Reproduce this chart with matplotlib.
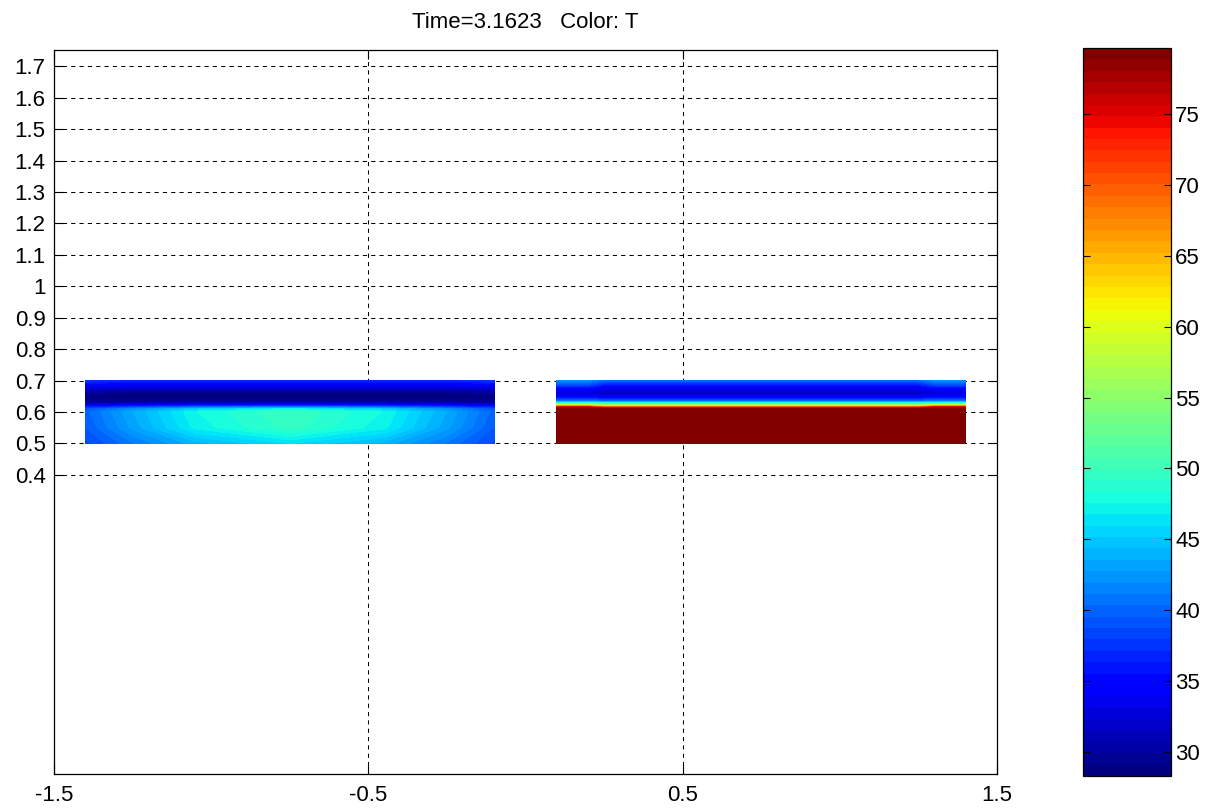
import numpy as np
import matplotlib
matplotlib.use("Agg")
import matplotlib.pyplot as plt
from matplotlib.colors import Normalize
from matplotlib.cm import ScalarMappable

plt.rcParams['font.family'] = ['Liberation Sans', 'DejaVu Sans']
plt.rcParams['axes.unicode_minus'] = False

# temperature on the left block
left_x = [-1.4, -1.25, -1.05, -0.75, -0.45, -0.25, -0.1]
left_y = [0.5, 0.55, 0.6, 0.61, 0.62, 0.63, 0.645, 0.66, 0.68, 0.7]
left_T = [
    [38.5, 41.0, 44.0, 46.0, 44.0, 41.0, 38.5],
    [39.5, 43.0, 47.0, 49.5, 47.0, 43.0, 39.5],
    [40.0, 43.5, 47.5, 50.0, 47.5, 43.5, 40.0],
    [39.0, 42.0, 45.0, 47.0, 45.0, 42.0, 39.0],
    [34.5, 35.5, 36.5, 37.0, 36.5, 35.5, 34.5],
    [30.0, 30.0, 30.5, 30.5, 30.5, 30.0, 30.0],
    [28.6, 28.5, 28.5, 28.5, 28.5, 28.5, 28.6],
    [29.5, 29.0, 29.0, 29.0, 29.0, 29.0, 29.5],
    [33.0, 32.5, 32.5, 32.5, 32.5, 32.5, 33.0],
    [37.5, 37.0, 37.0, 37.0, 37.0, 37.0, 37.5],
]

# temperature on the right block: edge and centre profiles along y
right_x = [0.1, 0.2, 0.25, 0.75, 1.25, 1.3, 1.4]
right_y = [0.5, 0.6, 0.61, 0.615, 0.62, 0.625, 0.63, 0.635, 0.645, 0.66, 0.675, 0.7]
right_T_edge = [79.6, 79.6, 79.6, 77.0, 64.0, 54.0, 47.0, 41.0, 36.0, 32.5, 35.0, 42.0]
right_T_mid = [79.6, 79.6, 79.0, 72.0, 60.0, 52.0, 46.0, 40.0, 35.0, 31.5, 33.0, 40.0]
right_is_edge = [True, True, False, False, False, True, True]

T_MIN, T_MAX = 28.31, 79.65
cbar_ticks = [30, 35, 40, 45, 50, 55, 60, 65, 70, 75]
x_ticks = [-1.5, -0.5, 0.5, 1.5]
y_ticks = [0.4, 0.5, 0.6, 0.7, 0.8, 0.9, 1.0, 1.1, 1.2, 1.3, 1.4, 1.5, 1.6, 1.7]

cmap = plt.get_cmap('jet', 64)
norm = Normalize(T_MIN, T_MAX)
levels = np.linspace(T_MIN, T_MAX, 65)

fig = plt.figure(figsize=(12.11, 8.10), dpi=100)
ax = fig.add_axes([54 / 1211, 36 / 810, 943 / 1211, 724 / 810])

ax.contourf(left_x, left_y, np.array(left_T), levels=levels, cmap=cmap, norm=norm)
right_T = np.column_stack([right_T_edge if e else right_T_mid for e in right_is_edge])
ax.contourf(right_x, right_y, right_T, levels=levels, cmap=cmap, norm=norm)

ax.set_xlim(-1.5, 1.5)
ax.set_ylim(-0.552, 1.752)
ax.set_xticks(x_ticks)
ax.set_xticklabels([f"{v:g}" for v in x_ticks])
ax.set_yticks(y_ticks)
ax.set_yticklabels([f"{v:g}" for v in y_ticks])
ax.set_axisbelow(True)
ax.grid(True, color='k', linestyle=(0, (4, 4)), linewidth=0.75)
ax.tick_params(direction='in', top=True, right=True, length=6.5, width=0.8,
               labelsize=16, pad=6)
ax.tick_params(axis='x', pad=8)
for s in ax.spines.values():
    s.set_linewidth(0.9)

fig.text((54 + 997) / 2 / 1211, 1 - 22 / 810, "Time=3.1623   Color: T",
         ha='center', va='center', fontsize=16)

cax = fig.add_axes([1083 / 1211, 34 / 810, 88 / 1211, 728 / 810])
cb = fig.colorbar(ScalarMappable(norm=norm, cmap=cmap), cax=cax)
cb.set_ticks(cbar_ticks)
cb.outline.set_linewidth(0.9)
cax.tick_params(direction='in', left=True, right=True, length=5, width=0.8,
                labelsize=16, pad=3)

fig.savefig("out.png", dpi=100)
